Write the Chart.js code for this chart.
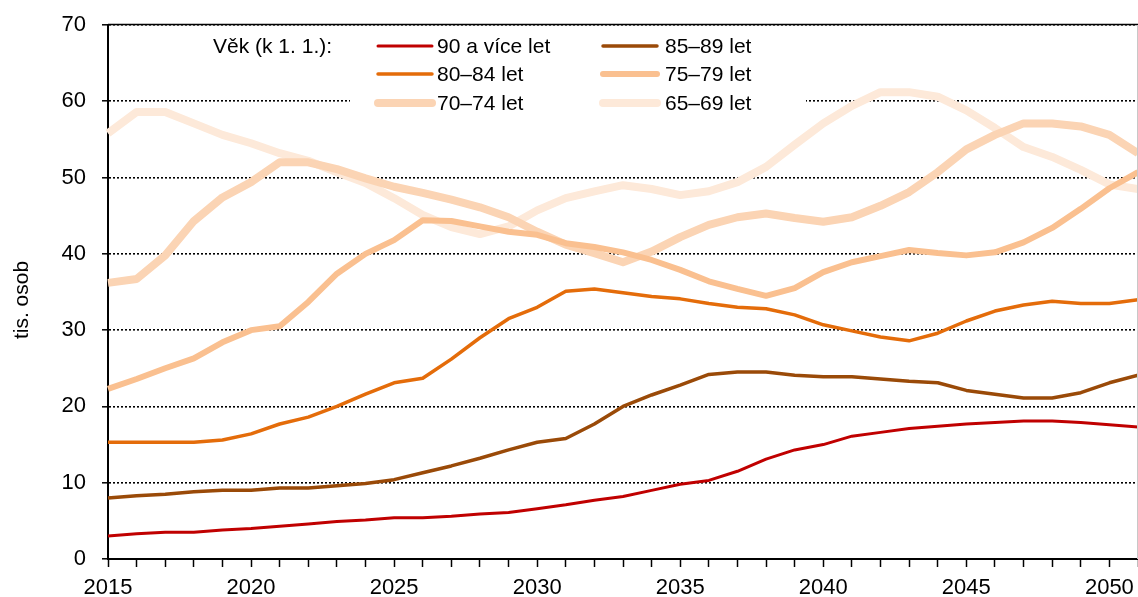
<!DOCTYPE html>
<html>
<head>
<meta charset="utf-8">
<script src="https://cdn.jsdelivr.net/npm/chart.js@4"></script>
<style>
    body { margin: 0; background: #fff; }
</style>
</head>
<body>
<canvas id="ageChart" width="1138" height="597"></canvas>
<script>
var years = [2015, 2016, 2017, 2018, 2019, 2020, 2021, 2022, 2023, 2024,
    2025, 2026, 2027, 2028, 2029, 2030, 2031, 2032, 2033, 2034,
    2035, 2036, 2037, 2038, 2039, 2040, 2041, 2042, 2043, 2044,
    2045, 2046, 2047, 2048, 2049, 2050, 2051];

var age90plus = [3.0, 3.3, 3.5, 3.5, 3.8, 4.0, 4.3, 4.6, 4.9, 5.1,
    5.4, 5.4, 5.6, 5.9, 6.1, 6.6, 7.1, 7.7, 8.2, 9.0,
    9.8, 10.3, 11.5, 13.1, 14.3, 15.0, 16.1, 16.6, 17.1, 17.4,
    17.7, 17.9, 18.1, 18.1, 17.9, 17.6, 17.3];

var age85to89 = [8.0, 8.3, 8.5, 8.8, 9.0, 9.0, 9.3, 9.3, 9.6, 9.9,
    10.4, 11.3, 12.2, 13.2, 14.3, 15.3, 15.8, 17.7, 20.0, 21.5,
    22.8, 24.2, 24.5, 24.5, 24.1, 23.9, 23.9, 23.6, 23.3, 23.1,
    22.1, 21.6, 21.1, 21.1, 21.8, 23.1, 24.1];

var age80to84 = [15.3, 15.3, 15.3, 15.3, 15.6, 16.4, 17.7, 18.6, 20.0, 21.6,
    23.1, 23.7, 26.2, 29.0, 31.5, 33.0, 35.1, 35.4, 34.9, 34.4,
    34.1, 33.5, 33.0, 32.8, 32.0, 30.7, 29.9, 29.1, 28.6, 29.6,
    31.2, 32.5, 33.3, 33.8, 33.5, 33.5, 34.0];

var age75to79 = [22.3, 23.6, 25.0, 26.3, 28.4, 30.0, 30.5, 33.7, 37.4, 40.0,
    41.8, 44.4, 44.3, 43.6, 42.9, 42.5, 41.4, 40.9, 40.2, 39.2,
    37.9, 36.4, 35.4, 34.5, 35.5, 37.6, 38.9, 39.7, 40.5, 40.1,
    39.8, 40.2, 41.5, 43.4, 45.9, 48.6, 50.7];

var age70to74 = [36.2, 36.7, 39.8, 44.3, 47.4, 49.4, 52.0, 52.0, 51.1, 49.9,
    48.8, 48.0, 47.1, 46.1, 44.8, 42.9, 41.2, 40.1, 38.9, 40.3,
    42.2, 43.8, 44.8, 45.3, 44.7, 44.2, 44.8, 46.3, 48.1, 50.7,
    53.7, 55.6, 57.1, 57.1, 56.7, 55.6, 53.2];

var age65to69 = [55.8, 58.6, 58.6, 57.1, 55.6, 54.5, 53.2, 52.2, 50.7, 49.3,
    47.3, 45.1, 43.5, 42.6, 43.6, 45.7, 47.3, 48.2, 49.0, 48.5,
    47.7, 48.2, 49.4, 51.4, 54.3, 57.1, 59.4, 61.2, 61.2, 60.6,
    58.8, 56.5, 54.0, 52.7, 51.0, 49.1, 48.5];

var seriesLabels = ['90 a více let', '85–89 let', '80–84 let', '75–79 let', '70–74 let', '65–69 let'];

var FONT = '"Liberation Sans", Arial, sans-serif';

// legend drawn by hand: title on the left, two columns, white box over the grid
var legendPlugin = {
    id: 'ageLegend',
    afterDraw: function (chart) {
        var ctx = chart.ctx;
        var area = chart.chartArea;
        ctx.save();

        ctx.fillStyle = '#fff';
        ctx.fillRect(350, 30, 456, 86);

        ctx.font = '21px ' + FONT;
        ctx.fillStyle = '#000';
        ctx.textBaseline = 'middle';
        ctx.textAlign = 'left';
        ctx.fillText('Věk (k 1. 1.):', 213, 47);

        var rows = [46, 74, 103];
        var cols = [{ x1: 378, x2: 432, tx: 437 }, { x1: 603, x2: 657, tx: 665 }];

        chart.data.datasets.forEach(function (ds, i) {
            var row = rows[Math.floor(i / 2)];
            var col = cols[i % 2];
            ctx.beginPath();
            ctx.lineCap = 'round';
            ctx.lineWidth = ds.borderWidth;
            ctx.strokeStyle = ds.borderColor;
            ctx.moveTo(col.x1, row);
            ctx.lineTo(col.x2, row);
            ctx.stroke();
            ctx.fillStyle = '#000';
            ctx.fillText(ds.label, col.tx, row + 1);
        });

        // axis title
        ctx.save();
        ctx.translate(22, 300);
        ctx.rotate(-Math.PI / 2);
        ctx.textAlign = 'center';
        ctx.fillText('tis. osob', 0, 0);
        ctx.restore();

        // top frame line and grey right edge
        ctx.lineCap = 'butt';
        ctx.strokeStyle = '#000';
        ctx.lineWidth = 1.5;
        ctx.beginPath();
        ctx.moveTo(area.left, area.top - 0.5);
        ctx.lineTo(area.right, area.top - 0.5);
        ctx.stroke();

        ctx.strokeStyle = '#c8c8c8';
        ctx.lineWidth = 1;
        ctx.beginPath();
        ctx.moveTo(area.right - 0.5, area.top);
        ctx.lineTo(area.right - 0.5, area.bottom);
        ctx.stroke();

        ctx.restore();
    }
};

var ctx = document.getElementById('ageChart').getContext('2d');

var ageChart = new Chart(ctx, {
    type: 'line',
    data: {
        labels: years,
        datasets: [
            { label: seriesLabels[0], data: age90plus, borderColor: '#C00000', borderWidth: 3 },
            { label: seriesLabels[1], data: age85to89, borderColor: '#9A4A08', borderWidth: 3.5 },
            { label: seriesLabels[2], data: age80to84, borderColor: '#E46C0A', borderWidth: 3.5 },
            { label: seriesLabels[3], data: age75to79, borderColor: '#FAC090', borderWidth: 6 },
            { label: seriesLabels[4], data: age70to74, borderColor: '#FBD4B4', borderWidth: 8 },
            { label: seriesLabels[5], data: age65to69, borderColor: '#FDE9D9', borderWidth: 8 }
        ]
    },
    options: {
        responsive: false,
        animation: false,
        layout: {
            autoPadding: false,
            padding: { top: 25, right: 0, bottom: 0, left: 0 }
        },
        elements: {
            point: { radius: 0 },
            line: { tension: 0, borderJoinStyle: 'round', fill: false }
        },
        plugins: {
            legend: { display: false },
            tooltip: { enabled: false }
        },
        scales: {
            x: {
                type: 'category',
                offset: false,
                afterFit: function (scale) {
                    scale.height = 38;
                    scale.paddingLeft = 0;
                    scale.paddingRight = 0;
                },
                grid: {
                    drawOnChartArea: false,
                    drawTicks: true,
                    tickLength: 8,
                    tickColor: '#000',
                    tickWidth: 1.5
                },
                border: { display: true, color: '#000', width: 2 },
                ticks: {
                    autoSkip: false,
                    maxRotation: 0,
                    padding: 8,
                    color: '#000',
                    font: { family: FONT, size: 22 },
                    callback: function (value, index) {
                        var y = years[index];
                        return y % 5 === 0 ? String(y) : '';
                    }
                }
            },
            y: {
                min: 0,
                max: 70,
                afterFit: function (scale) {
                    scale.width = 108;
                    scale.paddingTop = 0;
                    scale.paddingBottom = 0;
                },
                grid: {
                    color: '#000',
                    lineWidth: 1.6,
                    drawTicks: true,
                    tickLength: 6,
                    tickColor: '#000',
                    tickWidth: 1.5
                },
                border: { display: true, color: '#000', width: 2, dash: [2, 2] },
                ticks: {
                    stepSize: 10,
                    padding: 16,
                    color: '#000',
                    font: { family: FONT, size: 22 }
                }
            }
        }
    },
    plugins: [legendPlugin]
});
</script>
</body>
</html>
